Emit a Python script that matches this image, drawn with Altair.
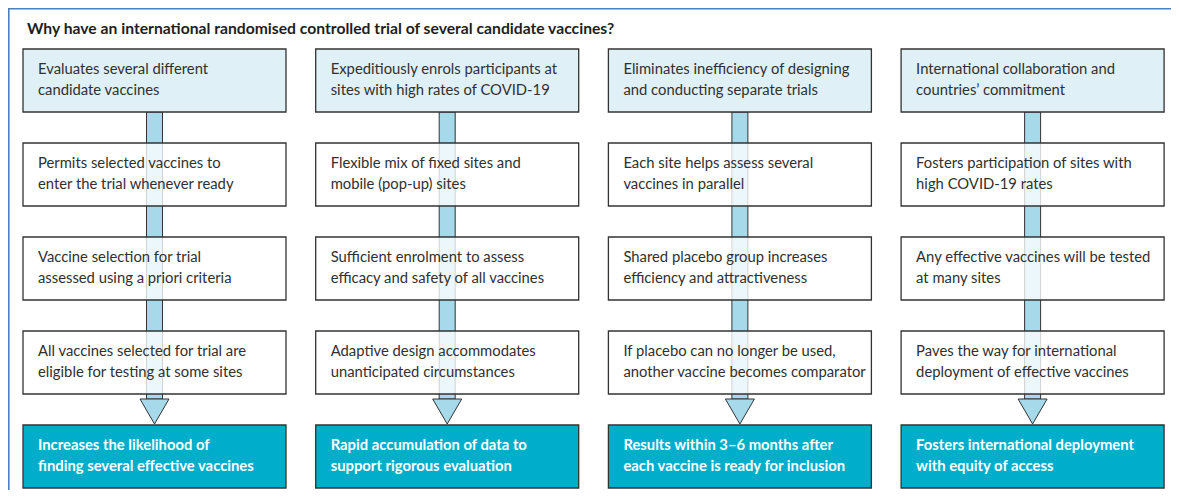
import altair as alt
import pandas as pd

# ---------------- data ----------------
title = "Why have an international randomised controlled trial of several candidate vaccines?"

top_texts = [
    "Evaluates several different\ncandidate vaccines",
    "Expeditiously enrols participants at\nsites with high rates of COVID-19",
    "Eliminates inefficiency of designing\nand conducting separate trials",
    "International collaboration and\ncountries’ commitment",
]
mid_row1 = [
    "Permits selected vaccines to\nenter the trial whenever ready",
    "Flexible mix of fixed sites and\nmobile (pop-up) sites",
    "Each site helps assess several\nvaccines in parallel",
    "Fosters participation of sites with\nhigh COVID-19 rates",
]
mid_row2 = [
    "Vaccine selection for trial\nassessed using a priori criteria",
    "Sufficient enrolment to assess\nefficacy and safety of all vaccines",
    "Shared placebo group increases\nefficiency and attractiveness",
    "Any effective vaccines will be tested\nat many sites",
]
mid_row3 = [
    "All vaccines selected for trial are\neligible for testing at some sites",
    "Adaptive design accommodates\nunanticipated circumstances",
    "If placebo can no longer be used,\nanother vaccine becomes comparator",
    "Paves the way for international\ndeployment of effective vaccines",
]
bottom_texts = [
    "Increases the likelihood of\nfinding several effective vaccines",
    "Rapid accumulation of data to\nsupport rigorous evaluation",
    "Results within 3–6 months after\neach vaccine is ready for inclusion",
    "Fosters international deployment\nwith equity of access",
]

# ---------------- layout (page pixel space) ----------------
COL_X0, COL_STEP, BOX_W = 23, 292.7, 263
ROW_Y0, ROW_STEP, BOX_H = 49, 94, 63
SHAFT_W, HEAD_W, HEAD_H = 16, 29, 25
LINE_H = 21
PAD_X = 15

TOP_FILL = "#dff0f7"
MID_FILL = "#ffffff"
BOT_FILL = "#00aecb"
ARROW_FILL = "#a6d9ea"
EDGE = "#333333"
TEXT = "#303030"
FRAME = "#4a80bb"
FONT = "Lato"

rows = [top_texts, mid_row1, mid_row2, mid_row3, bottom_texts]
kinds = ["top", "mid", "mid", "mid", "bot"]

box_recs, text_recs = [], []
for r, (texts, kind) in enumerate(zip(rows, kinds)):
    for c, t in enumerate(texts):
        x0 = COL_X0 + c * COL_STEP
        y0 = ROW_Y0 + r * ROW_STEP
        box_recs.append(dict(x=x0, x2=x0 + BOX_W, y=y0, y2=y0 + BOX_H, kind=kind))
        lines = t.split("\n")
        n = len(lines)
        for i, ln in enumerate(lines):
            text_recs.append(dict(x=x0 + PAD_X, y=y0 + BOX_H / 2 + (i - (n - 1) / 2) * LINE_H,
                                  text=ln, kind=kind))
boxes = pd.DataFrame(box_recs)
texts = pd.DataFrame(text_recs)

shaft_top = ROW_Y0 + BOX_H
head_top = ROW_Y0 + 3 * ROW_STEP + BOX_H + 5
shafts = pd.DataFrame([
    dict(x=COL_X0 + c * COL_STEP + BOX_W / 2 - SHAFT_W / 2,
         x2=COL_X0 + c * COL_STEP + BOX_W / 2 + SHAFT_W / 2,
         y=shaft_top, y2=head_top) for c in range(4)])
heads = pd.DataFrame([
    dict(x=COL_X0 + c * COL_STEP + BOX_W / 2, y=head_top + HEAD_H / 2) for c in range(4)])

# page has 8px margin; keep chart inside the 1179x498 window
W, H = 1163, 482
xs = alt.Scale(domain=[8, 8 + W], nice=False, zero=False)
ys = alt.Scale(domain=[8, 8 + H], nice=False, zero=False, reverse=True)
X = lambda f="x": alt.X(f"{f}:Q", scale=xs, axis=None)
Y = lambda f="y": alt.Y(f"{f}:Q", scale=ys, axis=None)

frame = pd.DataFrame([dict(x=8, x2=1179, y=8.8, y2=8.8), dict(x=8.8, x2=8.8, y=8, y2=498)])
frame_l = alt.Chart(frame).mark_rule(color=FRAME, strokeWidth=1.6).encode(
    x=X(), x2="x2:Q", y=Y(), y2="y2:Q")

title_l = alt.Chart(pd.DataFrame([dict(x=27, y=29, text=title)])).mark_text(
    align="left", baseline="middle", font=FONT, fontSize=15.7, fontWeight="bold", color="#1e1e1e"
).encode(x=X(), y=Y(), text="text:N")

shaft_l = alt.Chart(shafts).mark_rect(fill=ARROW_FILL, stroke=EDGE, strokeWidth=1).encode(
    x=X(), x2="x2:Q", y=Y(), y2="y2:Q")

top_l = alt.Chart(boxes[boxes.kind == "top"]).mark_rect(
    fill=TOP_FILL, stroke=EDGE, strokeWidth=1.3).encode(x=X(), x2="x2:Q", y=Y(), y2="y2:Q")
mid_l = alt.Chart(boxes[boxes.kind == "mid"]).mark_rect(
    fill=MID_FILL, fillOpacity=0.78, stroke=EDGE, strokeWidth=1.3).encode(
    x=X(), x2="x2:Q", y=Y(), y2="y2:Q")

tri = "M -1 -0.862 L 1 -0.862 L 0 0.862 Z"
head_l = alt.Chart(heads).mark_point(
    shape=tri, size=HEAD_W ** 2, filled=True, fill=ARROW_FILL, stroke=EDGE,
    strokeWidth=1, opacity=1, fillOpacity=1).encode(x=X(), y=Y())

bot_l = alt.Chart(boxes[boxes.kind == "bot"]).mark_rect(
    fill=BOT_FILL, stroke=EDGE, strokeWidth=1.3).encode(x=X(), x2="x2:Q", y=Y(), y2="y2:Q")

txt_l = alt.Chart(texts[texts.kind != "bot"]).mark_text(
    align="left", baseline="middle", font=FONT, fontSize=14.8, color=TEXT
).encode(x=X(), y=Y(), text="text:N")
btxt_l = alt.Chart(texts[texts.kind == "bot"]).mark_text(
    align="left", baseline="middle", font=FONT, fontSize=14.8, fontWeight="bold", color="#ffffff"
).encode(x=X(), y=Y(), text="text:N")

chart = alt.layer(frame_l, title_l, shaft_l, top_l, mid_l, head_l, bot_l, txt_l, btxt_l).properties(
    width=W, height=H, padding=0, autosize=alt.AutoSizeParams(type="none"),
    background="#ffffff"
).configure_view(stroke=None)

chart.save("out.html", embed_options={"renderer": "svg", "actions": False})
